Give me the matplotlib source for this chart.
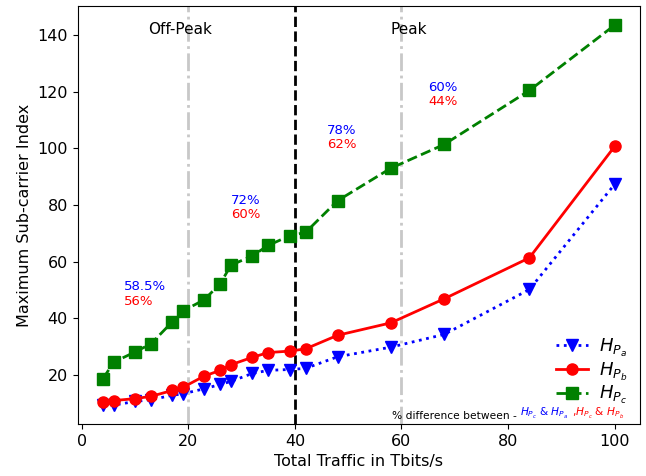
import matplotlib.pyplot as plt
import numpy as np

traffic = [4, 6, 10, 13, 17, 19, 23, 26, 28, 32, 35, 39, 42, 48, 58, 68, 84, 100]
hp_a = [9.4, 9.2, 10.5, 11.1, 12.7, 13.2, 15.0, 16.5, 17.6, 20.4, 21.5, 21.8, 22.2, 26.3, 29.7, 34.2, 50.1, 87.3]
hp_b = [10.3, 10.8, 11.5, 12.3, 14.4, 15.5, 19.5, 21.5, 23.5, 26.1, 27.8, 28.3, 29.1, 33.9, 38.3, 46.8, 61.3, 100.7]
hp_c = [18.6, 24.4, 28.0, 30.9, 38.7, 42.5, 46.5, 52.2, 58.7, 62.0, 65.7, 69.1, 70.3, 81.5, 93.0, 101.4, 120.5, 143.6]

# percentage annotations: (x, y, blue text, red text)
pct_x = [8, 28, 46, 65]
pct_y = [51, 81.5, 106.5, 121.5]
pct_blue = ["58.5%", "72%", "78%", "60%"]
pct_red = ["56%", "60%", "62%", "44%"]

fig = plt.figure(figsize=(6.46, 4.76), dpi=100)
ax = fig.add_axes([0.12, 0.109, 0.871, 0.878])

ax.axvline(x=20, color='#c8c8c8', linestyle='-.', linewidth=2)
ax.axvline(x=60, color='#c8c8c8', linestyle='-.', linewidth=2)
ax.axvline(x=40, color='k', linestyle='--', linewidth=2)

ax.plot(traffic, hp_a, 'b:', marker='v', markersize=8, linewidth=2, label=r'$H_{P_a}$')
ax.plot(traffic, hp_b, 'r-', marker='o', markersize=8, linewidth=2, label=r'$H_{P_b}$')
ax.plot(traffic, hp_c, 'g--', marker='s', markersize=8, linewidth=2, label=r'$H_{P_c}$')

ax.text(18.4, 142, "Off-Peak", fontsize=11, ha='center', va='center')
ax.text(61.4, 142, "Peak", fontsize=11, ha='center', va='center')

for i in range(len(pct_x)):
	ax.text(pct_x[i], pct_y[i], pct_blue[i], color='b', fontsize=9.5, va='center')
	ax.text(pct_x[i], pct_y[i] - 5, pct_red[i], color='r', fontsize=9.5, va='center')

ax.set_xlabel("Total Traffic in Tbits/s", fontsize=11.5)
ax.set_ylabel("Maximum Sub-carrier Index", fontsize=11.5)
ax.tick_params(labelsize=11.5)

ax.legend(loc='lower right', frameon=False, fontsize=13, bbox_to_anchor=(1.0, 0.012),
	handlelength=1.8, handletextpad=0.6, labelspacing=0.1, borderpad=0.2)

t1 = ax.text(0.559, 0.008, "% difference between - ", transform=ax.transAxes, fontsize=7.7, va='bottom')
t2 = ax.annotate(r"$H_{P_c}$ & $H_{P_a}$", xy=(1, 0), xycoords=t1, color='b', fontsize=7.7, va='bottom')
t3 = ax.annotate(r" ,$H_{P_c}$ & $H_{P_b}$", xy=(1, 0), xycoords=t2, color='r', fontsize=7.7, va='bottom')

plt.savefig('out.png')
